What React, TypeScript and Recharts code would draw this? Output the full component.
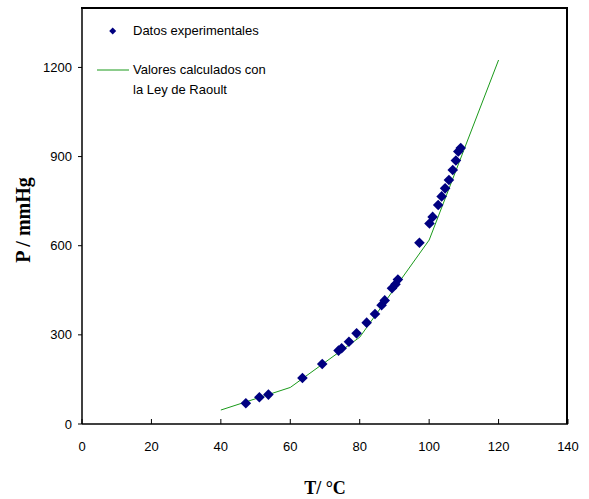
import React from 'react';
import { ComposedChart, XAxis, YAxis, Scatter, Line, Label } from 'recharts';

const expT = [47.2, 51.1, 53.7, 63.5, 69.2, 73.9, 74.8, 76.9, 79.1, 82.0, 84.4, 86.3, 87.2, 89.3, 90.3, 91.0, 97.2, 100.1, 101.0, 102.6, 103.6, 104.6, 105.7, 106.8, 107.7, 108.4, 109.1];
const expP = [70, 90, 99, 155, 202, 247, 255, 277, 305, 341, 370, 400, 416, 457, 470, 486, 610, 675, 697, 737, 766, 793, 821, 855, 887, 917, 929];

const calcT = [40, 60, 80, 100, 120];
const calcP = [47, 123, 292, 619, 1225];

const xTicks = [0, 20, 40, 60, 80, 100, 120, 140];
const yTicks = [0, 300, 600, 900, 1200];
const xMax = 140;
const yMax = 1400;

const expLabel = 'Datos experimentales';
const calcLabel1 = 'Valores calculados con';
const calcLabel2 = 'la Ley de Raoult';
const xTitle = 'T/ °C';
const yTitle = 'P / mmHg';

const expData = expT.map((t, i) => ({ T: t, P: expP[i] }));
const calcData = calcT.map((t, i) => ({ T: t, P: calcP[i] }));

const NAVY = '#000080';
const GREEN = '#1a9a1a';
const SANS = 'Arial, "Liberation Sans", sans-serif';
const SERIF = '"Times New Roman", "Liberation Serif", serif';

const W = 589;
const H = 499;
const M = { top: 8, right: 21, bottom: 0, left: 0 };
const Y_AXIS_W = 82;
const X_AXIS_H = 75;

const Diamond = (props: any) => {
  const { cx, cy } = props;
  const r = 5.3;
  return (
    <polygon
      points={`${cx},${cy - r} ${cx + r},${cy} ${cx},${cy + r} ${cx - r},${cy}`}
      fill={NAVY}
    />
  );
};

export default function App() {
  const tickStyle = { fontSize: 13, fill: '#000', fontFamily: SANS };
  const frameLine = { stroke: '#000', strokeWidth: 1.5 };
  const plotL = M.left + Y_AXIS_W;
  const plotT = M.top;
  const plotW = W - M.right - plotL;
  const plotH = H - M.bottom - X_AXIS_H - plotT;
  return (
    <div style={{ position: 'absolute', left: 0, top: 0, width: W, height: H, background: '#fff' }}>
      <div
        style={{
          position: 'absolute',
          left: plotL - 1,
          top: plotT - 1,
          width: plotW + 1,
          height: plotH + 1,
          borderTop: '2px solid #000',
          borderRight: '2px solid #000',
          boxSizing: 'border-box',
        }}
      />
      <div style={{ position: 'absolute', left: 0, top: 0 }}>
        <ComposedChart width={W} height={H} margin={M}>
          <XAxis
            type="number"
            dataKey="T"
            domain={[0, xMax]}
            ticks={xTicks}
            allowDataOverflow
            height={X_AXIS_H}
            tickSize={-5}
            tickMargin={23}
            axisLine={frameLine}
            tickLine={{ stroke: '#000', strokeWidth: 1 }}
            tick={tickStyle}
          >
            <Label
              value={xTitle}
              position="center"
              dy={26}
              style={{ fontFamily: SERIF, fontWeight: 'bold', fontSize: 18, fill: '#000' }}
            />
          </XAxis>
          <YAxis
            type="number"
            dataKey="P"
            domain={[0, yMax]}
            ticks={yTicks}
            allowDataOverflow
            width={Y_AXIS_W}
            tickSize={4}
            tickMargin={6}
            axisLine={frameLine}
            tickLine={{ stroke: '#000', strokeWidth: 1 }}
            tick={tickStyle}
          >
            <Label
              value={yTitle}
              position="center"
              angle={-90}
              dx={-18}
              dy={4}
              style={{ fontFamily: SERIF, fontWeight: 'bold', fontSize: 20, fill: '#000', textAnchor: 'middle' }}
            />
          </YAxis>
          <Line
            data={calcData}
            dataKey="P"
            type="linear"
            stroke={GREEN}
            strokeWidth={1}
            dot={false}
            activeDot={false}
            isAnimationActive={false}
          />
          <Scatter
            data={expData}
            dataKey="P"
            fill={NAVY}
            shape={Diamond}
            isAnimationActive={false}
          />
        </ComposedChart>
      </div>

      <svg
        width={W}
        height={H}
        style={{ position: 'absolute', left: 0, top: 0, pointerEvents: 'none' }}
      >
        <polygon points="112.7,27.5 116.2,31 112.7,34.5 109.2,31" fill={NAVY} />
        <line x1={97} y1={70} x2={129} y2={70} stroke={GREEN} strokeWidth={1} />
      </svg>
      <div
        style={{
          position: 'absolute',
          left: 133,
          top: 22,
          fontFamily: SANS,
          fontSize: 13,
          lineHeight: '18px',
          color: '#000',
          whiteSpace: 'nowrap',
        }}
      >
        {expLabel}
      </div>
      <div
        style={{
          position: 'absolute',
          left: 133,
          top: 60,
          fontFamily: SANS,
          fontSize: 13,
          lineHeight: '20px',
          color: '#000',
          whiteSpace: 'nowrap',
        }}
      >
        <div>{calcLabel1}</div>
        <div>{calcLabel2}</div>
      </div>
    </div>
  );
}
